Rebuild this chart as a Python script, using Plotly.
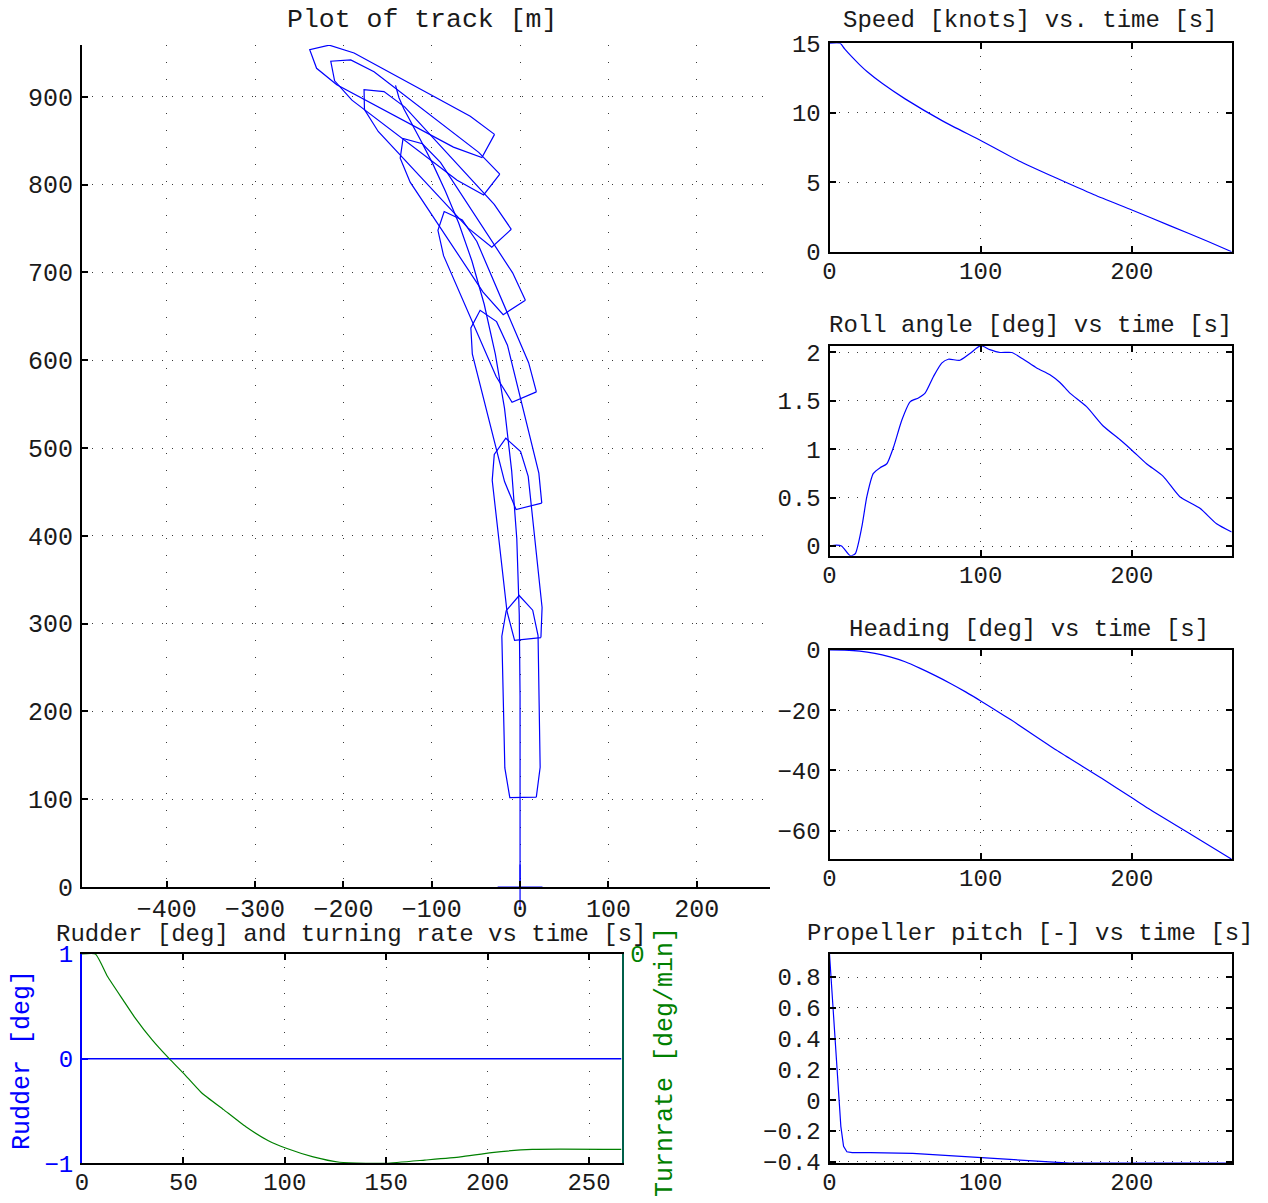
import numpy as np
import plotly.graph_objects as go

W, H = 1268, 1203
FONT = "Liberation Mono, Courier New, monospace"
BLUE = "#0000ff"
GREEN = "#008000"
TXT = "#1a1a1a"

# ---------------- data ----------------
# Track (midship trajectory) [m]
track_x = [0, 0, 0, -0.9, -3.7, -9.5, -17.6, -28.0, -40.6, -54.5, -69.5, -84.5, -98.8, -111.8, -123.2, -131.5, -137.1, -141.0]
track_y = [0, 110, 217, 310, 396.8, 474, 545.2, 607, 663.7, 713, 756.3, 792.5, 823.6, 849, 870.3, 886, 898.9, 913]

# Ship outlines: midship positions and headings
ship_x = [1.2, -3.7, -17.6, -40.6, -69.5, -98.8, -123.2, -137.1]
ship_y = [217, 396.8, 545.2, 663.7, 756.3, 823.6, 870.3, 898.9]
ship_heading = [-1.1, -6.2, -13.9, -23.2, -33.2, -42.6, -52.4, -61.5]
# Hull template (u: forward from midship, v: to starboard) [m]
hull_u = [-115, -81, 69, 98, 115, 98, 69, -81, -115, -115]
hull_v = [15, 20, 20.5, 15, 0, -15, -20.5, -20, -15, 15]

# Speed [knots]
speed_t = [0, 7, 10, 15, 20, 25, 35, 50, 75, 100, 125, 150, 175, 200, 225, 250, 266]
speed_kn = [15, 15, 14.6, 14.0, 13.45, 12.95, 12.1, 11.0, 9.4, 8.0, 6.55, 5.3, 4.1, 3.0, 1.88, 0.75, 0]

# Roll [deg]
roll_t = [0, 4.8, 8, 13.7, 17, 21.4, 24.7, 29, 33.5, 37.9, 42.3, 47.8, 53.3, 58.8, 63.2, 68.7, 74.2, 78.6,
          86.3, 92.9, 100, 106, 112.8, 120.5, 128.2, 137, 145.8, 152.4, 159, 170, 181, 192, 200, 209.7,
          220.7, 231.7, 245, 256, 266]
roll_deg = [0, 0.01, 0, -0.10, -0.08, 0.20, 0.51, 0.75, 0.81, 0.85, 1.02, 1.30, 1.49, 1.53, 1.58, 1.75, 1.89, 1.93,
            1.92, 1.99, 2.07, 2.03, 2.0, 2.0, 1.93, 1.84, 1.77, 1.69, 1.58, 1.44, 1.24, 1.10, 0.99, 0.85,
            0.72, 0.51, 0.39, 0.23, 0.145]

# Heading [deg]
head_t = [0, 10, 20, 30, 40, 50, 60, 70, 80, 90, 100, 120, 150, 180, 200, 210, 240, 266]
head_deg = [0, -0.05, -0.35, -1.1, -2.3, -3.9, -6.1, -8.5, -11.1, -13.9, -16.9, -23.2, -33.2, -42.6, -49.1, -52.4, -61.5, -69.5]

# Propeller pitch [-]
pitch_t = [0, 7.5, 9.3, 11.5, 15, 27, 55, 100, 137, 159, 266]
pitch = [0.95, -0.17, -0.30, -0.335, -0.34, -0.34, -0.346, -0.374, -0.40, -0.409, -0.409]

# Rudder [deg] and turn rate [deg/min]
rudder_t = [0, 266]
rudder_deg = [0, 0]
turn_t = [0, 6.6, 12.6, 20.3, 25.8, 34.6, 43, 50, 58.8, 69.8, 80.8, 91.9, 100.7, 114, 127, 140, 150, 169, 186.6, 202, 222, 266]
turn_rate = [0, 0, -2.1, -4.3, -5.85, -8.0, -9.75, -11.1, -12.9, -14.5, -16.1, -17.4, -18.1, -18.9, -19.4, -19.5, -19.5,
             -19.2, -18.9, -18.5, -18.2, -18.2]

# tick labels
speed_ticks = [0, 5, 10, 15]
roll_ticks = [0, 0.5, 1, 1.5, 2]
roll_ticktext = ["0", "0.5", "1", "1.5", "2"]
head_ticks = [-60, -40, -20, 0]
head_ticktext = ["\u221260", "\u221240", "\u221220", "0"]
pitch_ticks = [-0.4, -0.2, 0, 0.2, 0.4, 0.6, 0.8]
pitch_ticktext = ["\u22120.4", "\u22120.2", "0", "0.2", "0.4", "0.6", "0.8"]
rudder_ticks = [-1, 0, 1]
rudder_ticktext = ["\u22121", "0", "1"]
time_ticks = [0, 100, 200]
rudder_time_ticks = [0, 50, 100, 150, 200, 250]
track_xticks = [-400, -300, -200, -100, 0, 100, 200]
track_yticks = [0, 100, 200, 300, 400, 500, 600, 700, 800, 900]

# ---------------- figure ----------------
fig = go.Figure()

fig.add_trace(go.Scatter(x=track_x, y=track_y, mode="lines", line=dict(color=BLUE, width=1.2),
                         xaxis="x", yaxis="y", showlegend=False, hoverinfo="skip"))
sx, sy = [], []
for mx, my, hd in zip(ship_x, ship_y, ship_heading):
    p = np.deg2rad(hd)
    fx, fy = np.sin(p), np.cos(p)
    rx, ry = np.cos(p), -np.sin(p)
    for u, v in zip(hull_u, hull_v):
        sx.append(mx + u * fx + v * rx)
        sy.append(my + u * fy + v * ry)
    sx.append(None)
    sy.append(None)
fig.add_trace(go.Scatter(x=sx, y=sy, mode="lines", line=dict(color=BLUE, width=1.2),
                         xaxis="x", yaxis="y", showlegend=False, hoverinfo="skip"))
fig.add_trace(go.Scatter(x=[track_x[0]], y=[track_y[0]], mode="markers",
                         marker=dict(symbol="cross-thin", size=32, line=dict(color=BLUE, width=1.2)),
                         cliponaxis=False, xaxis="x", yaxis="y", showlegend=False, hoverinfo="skip"))

fig.add_trace(go.Scatter(x=speed_t, y=speed_kn, mode="lines", line=dict(color=BLUE, width=1.2, shape="spline", smoothing=0.6),
                         xaxis="x2", yaxis="y2", showlegend=False))
fig.add_trace(go.Scatter(x=roll_t, y=roll_deg, mode="lines", line=dict(color=BLUE, width=1.2, shape="spline", smoothing=0.6),
                         xaxis="x3", yaxis="y3", showlegend=False))
fig.add_trace(go.Scatter(x=head_t, y=head_deg, mode="lines", line=dict(color=BLUE, width=1.2, shape="spline", smoothing=0.6),
                         xaxis="x4", yaxis="y4", showlegend=False))
fig.add_trace(go.Scatter(x=pitch_t, y=pitch, mode="lines", line=dict(color=BLUE, width=1.2),
                         xaxis="x5", yaxis="y5", showlegend=False))
fig.add_trace(go.Scatter(x=rudder_t, y=rudder_deg, mode="lines", line=dict(color=BLUE, width=1.5),
                         xaxis="x6", yaxis="y6", showlegend=False))
fig.add_trace(go.Scatter(x=turn_t, y=turn_rate, mode="lines", line=dict(color=GREEN, width=1.2, shape="spline", smoothing=0.5),
                         xaxis="x6", yaxis="y7", showlegend=False))


def px_x(p):
    return p / W


def px_y(p):
    return 1 - p / H


def ax(domain, rng, tickvals, anchor, fsize=24, mirror="ticks", dash="1px,14px", color="#000000",
       tickcolor=None, side=None, ticktext=None, standoff=2):
    d = dict(domain=domain, range=rng, tickvals=tickvals, anchor=anchor, showline=True, linecolor=color,
             linewidth=2, mirror=mirror, ticks="inside", ticklen=6, tickwidth=1.5,
             tickcolor=tickcolor or color, showgrid=True, gridcolor="#3a3a3a", gridwidth=1.2,
             griddash=dash, zeroline=False, tickfont=dict(family=FONT, size=fsize, color=TXT),
             ticklabelstandoff=standoff, fixedrange=True, automargin=False)
    if side:
        d["side"] = side
    if ticktext is not None:
        d["ticktext"] = ticktext
    return d


RX = [px_x(829.5), px_x(1231.7)]
XD = "1px,12px"
YD = "1px,8px"
XS = -4

layout = dict(
    width=W, height=H, margin=dict(l=0, r=0, t=0, b=0, pad=0), autosize=False,
    paper_bgcolor="white", plot_bgcolor="white", showlegend=False,
    font=dict(family=FONT, color=TXT),
    xaxis=ax([px_x(82), px_x(770)], [-496, 283], track_xticks, "y", fsize=25,
             mirror=False, dash="1px,16px", standoff=-2),
    yaxis=ax([px_y(887), px_y(45)], [0, 959], track_yticks, "x", fsize=25,
             mirror=False, dash="1px,9px"),
    xaxis2=ax(RX, [0, 266], time_ticks, "y2", dash=XD, standoff=XS),
    yaxis2=ax([px_y(251.7), px_y(43.3)], [0, 15], speed_ticks, "x2", dash=YD),
    xaxis3=ax(RX, [0, 266], time_ticks, "y3", dash=XD, standoff=XS),
    yaxis3=ax([px_y(555.7), px_y(345.7)], [-0.1, 2.07], roll_ticks, "x3", dash=YD, ticktext=roll_ticktext),
    xaxis4=ax(RX, [0, 266], time_ticks, "y4", dash=XD, standoff=XS),
    yaxis4=ax([px_y(859.3), px_y(650)], [-69.5, 0], head_ticks, "x4", dash=YD, ticktext=head_ticktext),
    xaxis5=ax(RX, [0, 266], time_ticks, "y5", dash=XD, standoff=XS),
    yaxis5=ax([px_y(1163.3), px_y(954)], [-0.41, 0.95], pitch_ticks, "x5", dash=YD, ticktext=pitch_ticktext),
    xaxis6=ax([px_x(82), px_x(621.5)], [0, 266], rudder_time_ticks, "y6", dash=XD, standoff=XS),
    yaxis6=ax([px_y(1163.3), px_y(954)], [-1, 1], rudder_ticks, "x6", dash=YD, mirror=False, color=BLUE,
              ticktext=rudder_ticktext),
    yaxis7=ax([px_y(1163.3), px_y(954)], [-19.5, 0], [0], "x6", dash=YD, mirror=False, color="#00604a",
              tickcolor=GREEN, side="right"),
)
layout["yaxis6"]["tickfont"]["color"] = BLUE
layout["yaxis7"]["tickfont"]["color"] = GREEN
layout["yaxis7"]["overlaying"] = "y6"
layout["yaxis7"]["showgrid"] = False

ann = []


def title(text, cx, cy, size=24, color=TXT, angle=0):
    ann.append(dict(text=text, x=px_x(cx), y=px_y(cy), xref="paper", yref="paper", showarrow=False,
                    xanchor="center", yanchor="middle", textangle=angle,
                    font=dict(family=FONT, size=size, color=color)))


title("Plot of track [m]", 422, 20, size=26.5)
title("Speed [knots] vs. time [s]", 1030, 20)
title("Roll angle [deg] vs time [s]", 1030, 325)
title("Heading [deg] vs time [s]", 1029, 629)
title("Propeller pitch [-] vs time [s]", 1030, 933)
title("Rudder [deg] and turning rate vs time [s]", 351, 934)
title("Rudder [deg]", 22, 1060, size=25, color=BLUE, angle=-90)
title("Turnrate [deg/min]", 665, 1062, size=25, color=GREEN, angle=-90)

layout["annotations"] = ann
fig.update_layout(**layout)
fig.write_html("out.html")
